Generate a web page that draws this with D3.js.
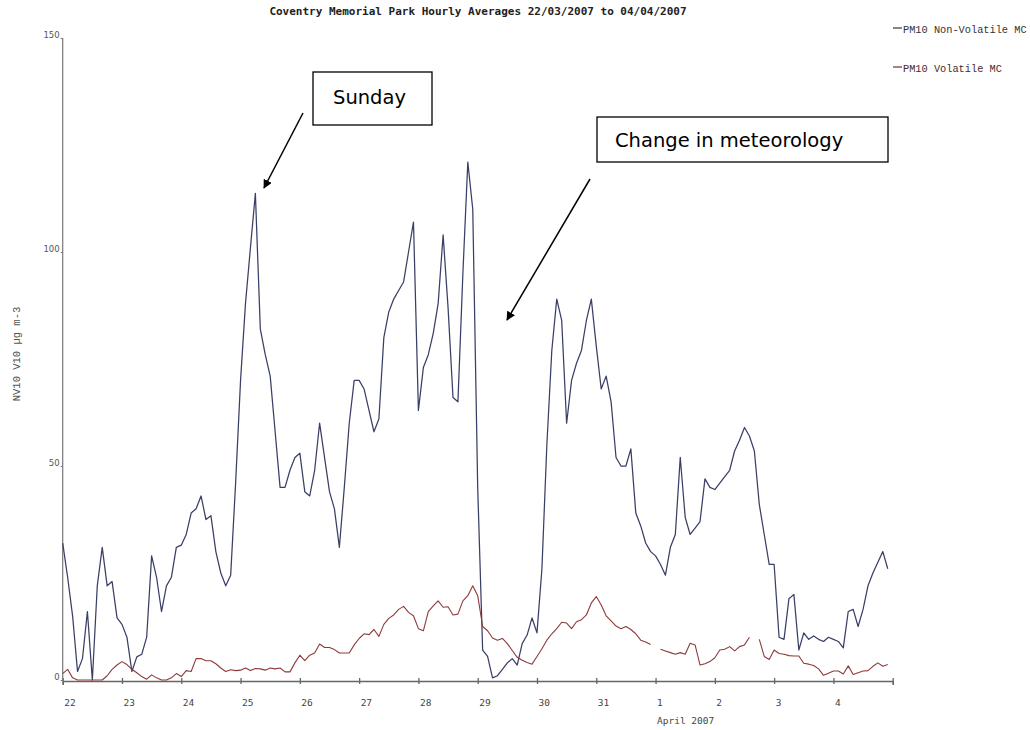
<!DOCTYPE html>
<html>
<head>
<meta charset="utf-8">
<script src="https://cdn.jsdelivr.net/npm/d3@7"></script>
<style>
  html, body { margin: 0; padding: 0; background: #fff; }
  svg { display: block; }
</style>
</head>
<body>
<svg id="chart" width="1030" height="730"></svg>
<script>
// ---- data (2-hourly readings, starting 22/03/2007 00:00) ----
const titleText = "Coventry Memorial Park Hourly Averages 22/03/2007 to 04/04/2007";
const seriesNames = ["PM10 Non-Volatile MC", "PM10 Volatile MC"];
const startTime = new Date(2007, 2, 22, 0, 0);
const endTime = new Date(2007, 3, 5, 0, 0);
const stepHours = 2;
const yTicks = [0, 50, 100, 150];
const dayTickLabels = ["22","23","24","25","26","27","28","29","30","31","1","2","3","4"];
const yAxisTitle = "NV10 V10 \u00b5g m-3";
const xAxisTitle = "April 2007";

const nonVolatile = [
  32, 24, 15, 2, 5, 16, 0, 22, 31, 22, 23, 14.5,
  13, 10, 2, 5.4, 6, 10, 29, 24, 16, 22, 24, 31,
  31.5, 34, 39, 40, 43, 37.5, 38.4, 30, 25, 22, 24.5, 46,
  70, 88, 101, 113.7, 82, 76, 71, 58, 45, 45, 49, 52,
  53, 44, 43, 49, 60, 52, 44, 40, 31, 45, 60, 70,
  70, 68, 63, 58, 61, 80, 86, 89, 91, 93, 100, 107,
  63, 73, 76, 81, 88, 104, 87, 66, 65, 95, 121, 110,
  45, 7, 5.5, 0.5, 1, 2.5, 4, 5, 3.5, 8.5, 10.5, 14.5,
  11, 26, 55, 77, 89, 84, 60, 70, 74, 77, 84, 89,
  78, 68, 71, 65, 52, 50, 50, 54, 39, 36, 32, 30,
  29, 27, 24.5, 31, 34, 52, 38, 34, 35.5, 37, 47, 45,
  44.5, 46, 47.5, 49, 53.5, 56, 59, 57, 53.5, 41, 34, 27,
  27, 10, 9.5, 19, 20, 7, 11, 9.5, 10.3, 9.5, 9, 10,
  9.5, 9, 7.5, 16, 16.5, 12.5, 16.5, 22, 25, 27.5, 30, 26
];

const volatile = [
  1.5, 2.5, 0.5, 0, 0, 0, 0, 0, 0, 1, 2.5, 3.5,
  4.3, 3.6, 2.5, 1.7, 0.8, 0.2, 1.2, 0.5, 0, 0, 0.5, 1.5,
  0.8, 2.2, 2, 5, 5, 4.5, 4.5, 3.8, 2.8, 2, 2.4, 2.2,
  2.3, 2.8, 2.2, 2.7, 2.6, 2.3, 2.8, 2.6, 2.8, 1.9, 1.9, 4,
  5.8, 4.5, 5.8, 6.3, 8.4, 7.6, 7.6, 7.1, 6.3, 6.3, 6.3, 8.2,
  9.7, 10.8, 10.6, 11.8, 10.2, 13, 14.4, 15.2, 16.5, 17.2, 15.8, 15,
  12, 11.5, 16, 17.3, 18.5, 17, 17.1, 15.2, 15.4, 18.5, 19.7, 22,
  19.7, 12.5, 11.5, 9.8, 9.3, 9.7, 8.5, 6.9, 5.3, 4.6, 4.1, 3.7,
  5.5, 7.3, 9.3, 10.8, 12, 13.5, 13.3, 12, 13.6, 14.1, 15.2, 18,
  19.5, 17.5, 15, 13.8, 12.6, 12, 12.5, 11.8, 10.8, 9.3, 8.9, 8.3,
  null, 7.2, 6.8, 6.4, 6, 6.4, 6, 8.6, 8.2, 3.5, 3.8, 4.3,
  5.2, 7, 7.2, 7.8, 6.8, 7.8, 8.2, 10, null, 9.5, 5.5, 4.8,
  7, 6.2, 6, 5.7, 5.6, 5.6, 3.9, 3.7, 3.4, 2.6, 1.1, 1.6,
  2.1, 2.1, 1.4, 3.3, 1.3, 1.7, 2.1, 2.2, 3.2, 4, 3.2, 3.6
];

const seriesColors = ["#3a3f66", "#8e3a3a"];

// ---- chart ----
const svg = d3.select("#chart");

const x = d3.scaleTime().domain([startTime, endTime]).range([62.7, 892.7]);
const y = d3.scaleLinear().domain([0, 150]).range([680, 38]);

const toPoints = arr => arr.map((v, i) => ({ t: d3.timeHour.offset(startTime, i * stepHours), v }));

const line = d3.line()
  .defined(d => d.v !== null)
  .x(d => x(d.t))
  .y(d => y(d.v));

// title
svg.append("text")
  .attr("x", 478).attr("y", 15)
  .attr("text-anchor", "middle")
  .style("font-family", "'DejaVu Sans Mono', monospace")
  .style("font-weight", "bold")
  .style("font-size", "11px")
  .attr("fill", "#222")
  .text(titleText);

// x axis
const dayTicks = d3.timeDay.range(startTime, d3.timeDay.offset(endTime, 1));
const xAxis = d3.axisBottom(x)
  .tickValues(dayTicks)
  .tickSize(4)
  .tickFormat((d, i) => dayTickLabels[i] !== undefined ? dayTickLabels[i] : "");
const gx = svg.append("g").attr("transform", "translate(0,681)").call(xAxis);
gx.select(".domain").attr("stroke", "#666").attr("stroke-width", 1.5);
gx.selectAll(".tick line").attr("stroke", "#666").attr("y1", -3).attr("y2", 3).attr("stroke-width", 1.3);
gx.selectAll(".tick text")
  .attr("text-anchor", "start")
  .attr("x", 1).attr("y", 25).attr("dy", "0")
  .style("font-family", "'DejaVu Sans Mono', monospace")
  .style("font-size", "9.5px")
  .attr("fill", "#444");

svg.append("text")
  .attr("x", 657).attr("y", 724)
  .style("font-family", "'DejaVu Sans Mono', monospace")
  .style("font-size", "9.5px")
  .attr("fill", "#444")
  .text(xAxisTitle);

// y axis
const yAxis = d3.axisLeft(y).tickValues(yTicks).tickSize(2).tickFormat(d3.format("d"));
const gy = svg.append("g").attr("transform", "translate(62.7,0)").call(yAxis);
gy.select(".domain").attr("stroke", "#777").attr("stroke-width", 1.2).attr("d", `M0,${y(150)}V681`);
gy.selectAll(".tick line").attr("stroke", "#777");
gy.selectAll(".tick text")
  .attr("x", -3).attr("dy", "0").attr("y", -1)
  .style("font-family", "'DejaVu Sans', sans-serif")
  .style("font-size", "8.5px")
  .attr("fill", "#555");

svg.append("text")
  .attr("transform", "translate(20,354) rotate(-90)")
  .attr("text-anchor", "middle")
  .style("font-family", "'Liberation Mono', monospace")
  .style("font-size", "10.5px")
  .attr("fill", "#555")
  .text(yAxisTitle);

// lines
[nonVolatile, volatile].forEach((arr, k) => {
  svg.append("path")
    .datum(toPoints(arr))
    .attr("fill", "none")
    .attr("stroke", seriesColors[k])
    .attr("stroke-width", k === 0 ? 1.25 : 1.1)
    .attr("stroke-linejoin", "round")
    .attr("d", line);
});

// legend
const legendY = [33, 72];
seriesNames.forEach((name, k) => {
  svg.append("line")
    .attr("x1", 893).attr("x2", 902)
    .attr("y1", legendY[k] - 5).attr("y2", legendY[k] - 5)
    .attr("stroke", k === 0 ? "#444" : "#7a4040")
    .attr("stroke-width", 1.3);
  svg.append("text")
    .attr("x", 903).attr("y", legendY[k])
    .style("font-family", "'Liberation Mono', monospace")
    .style("font-size", "10.3px")
    .attr("fill", k === 0 ? "#333" : "#4a2a2a")
    .text(name);
});

// annotations
svg.append("defs").append("marker")
  .attr("id", "arrow")
  .attr("viewBox", "0 0 10 10")
  .attr("refX", 9).attr("refY", 5)
  .attr("markerWidth", 9).attr("markerHeight", 9)
  .attr("markerUnits", "userSpaceOnUse")
  .attr("orient", "auto")
  .append("path").attr("d", "M0,0L10,5L0,10z").attr("fill", "#000");

const notes = [
  { text: "Sunday", box: [313, 72, 119, 53], tx: 333, ty: 104, arrow: [303, 113, 264, 188] },
  { text: "Change in meteorology", box: [597, 117, 291, 45], tx: 615, ty: 147, arrow: [590, 179, 507, 320] }
];
notes.forEach(n => {
  svg.append("rect")
    .attr("x", n.box[0]).attr("y", n.box[1])
    .attr("width", n.box[2]).attr("height", n.box[3])
    .attr("fill", "#fff").attr("stroke", "#000").attr("stroke-width", 1.3);
  svg.append("text")
    .attr("x", n.tx).attr("y", n.ty)
    .style("font-family", "'DejaVu Sans', Verdana, sans-serif")
    .style("font-size", "19.5px")
    .attr("fill", "#000")
    .text(n.text);
  svg.append("line")
    .attr("x1", n.arrow[0]).attr("y1", n.arrow[1])
    .attr("x2", n.arrow[2]).attr("y2", n.arrow[3])
    .attr("stroke", "#000").attr("stroke-width", 1.5)
    .attr("marker-end", "url(#arrow)");
});
</script>
</body>
</html>
